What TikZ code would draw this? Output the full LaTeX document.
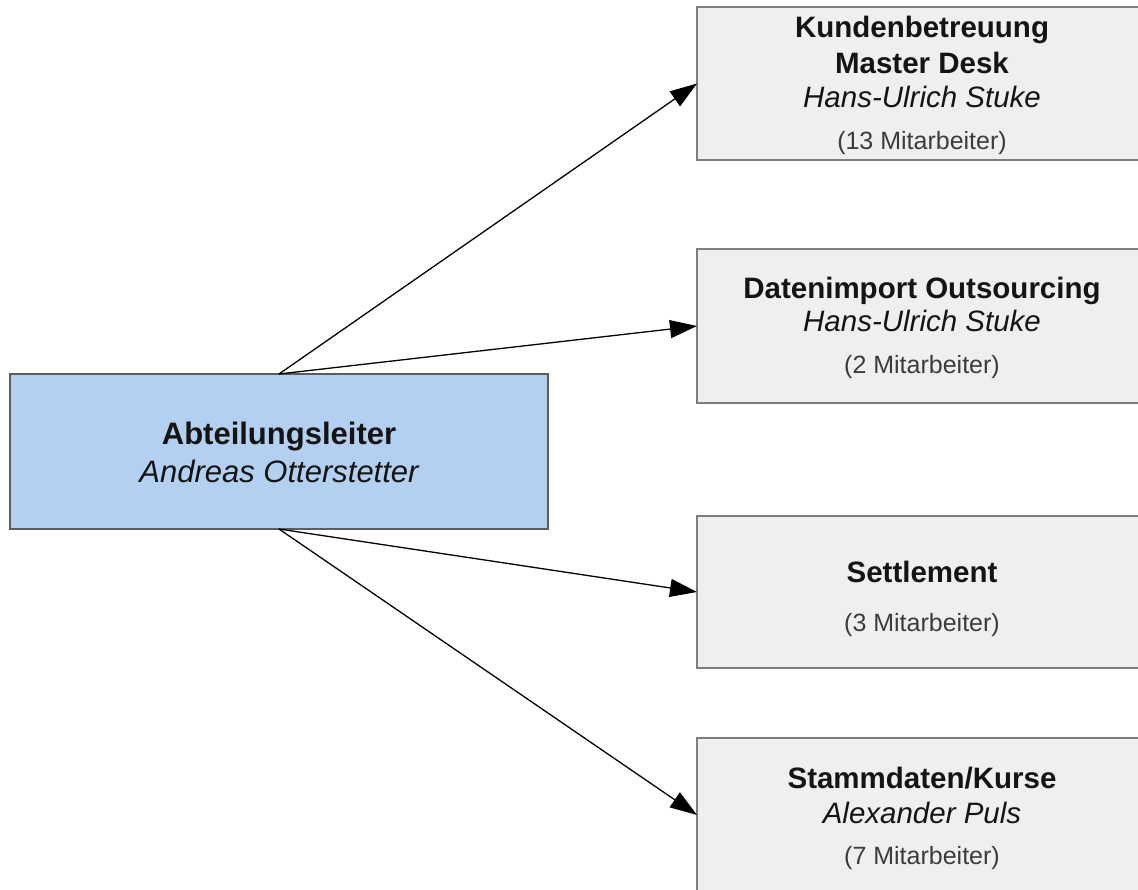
\documentclass[tikz,border=0pt]{standalone}
\usepackage{fontspec}
\setmainfont{Liberation Sans}
\usetikzlibrary{arrows.meta}

\definecolor{headfill}{HTML}{B4D0F0}
\definecolor{headline}{HTML}{5C5C5C}
\definecolor{unitfill}{HTML}{EFEFEF}
\definecolor{unitline}{HTML}{7E7E7E}
\definecolor{inktext}{HTML}{141414}
\definecolor{stafftext}{HTML}{3C3C3C}

\tikzset{
  box/.style={rectangle, inner sep=0pt, outer sep=0pt},
  headbox/.style={box, draw=headline, line width=2pt, fill=headfill,
    minimum width=538pt, minimum height=155pt},
  unitbox/.style={box, draw=unitline, line width=2.5pt, fill=unitfill,
    minimum width=450pt, minimum height=154pt},
  headtitle/.style={anchor=base, inner sep=0pt, text=inktext,
    font=\fontsize{31}{36}\selectfont\bfseries},
  headname/.style={anchor=base, inner sep=0pt, text=inktext,
    font=\fontsize{31}{36}\selectfont\itshape},
  unittitle/.style={anchor=base, inner sep=0pt, text=inktext,
    font=\fontsize{29.5}{34}\selectfont\bfseries},
  unitname/.style={anchor=base, inner sep=0pt, text=inktext,
    font=\fontsize{29.5}{34}\selectfont\itshape},
  staff/.style={anchor=base, inner sep=0pt, text=stafftext,
    font=\fontsize{25}{30}\selectfont},
  link/.style={line width=1.3pt, black, -{Triangle[length=27pt,width=18pt]}}
}

\begin{document}
\begin{tikzpicture}[x=1pt,y=-1pt]
  \clip (0,0) rectangle (1138,890);
  \fill[white] (0,0) rectangle (1138,890);

  % department head
  \node[headbox] (head) at (279,451.5) {};
  \node[headtitle] (headT) at (279,445) {Abteilungsleiter};
  \node[headname] (headN) at (279,482) {Andreas Otterstetter};

  % teams
  \node[unitbox, minimum height=153pt] (u1) at (922,83.5) {};
  \node[unittitle] (u1T) at (922,38) {Kundenbetreuung};
  \node[unittitle] (u1S) at (922,74) {Master Desk};
  \node[unitname] (u1N) at (922,108) {Hans-Ulrich Stuke};
  \node[staff] (u1C) at (922,150) {(13 Mitarbeiter)};

  \node[unitbox] (u2) at (922,326) {};
  \node[unittitle] (u2T) at (922,299) {Datenimport Outsourcing};
  \node[unitname] (u2N) at (922,332) {Hans-Ulrich Stuke};
  \node[staff] (u2C) at (922,374) {(2 Mitarbeiter)};

  \node[unitbox, minimum height=152pt] (u3) at (922,592) {};
  \node[unittitle] (u3T) at (922,582) {Settlement};
  \node[staff] (u3C) at (922,631) {(3 Mitarbeiter)};

  \node[unitbox] (u4) at (922,815) {};
  \node[unittitle] (u4T) at (922,788) {Stammdaten/Kurse};
  \node[unitname] (u4N) at (922,823) {Alexander Puls};
  \node[staff] (u4C) at (922,864) {(7 Mitarbeiter)};

  % reporting lines
  \draw[link] (head.north) -- (u1.west);
  \draw[link] (head.north) -- (u2.west);
  \draw[link] (head.south) -- (u3.west);
  \draw[link] (head.south) -- (u4.west);
\end{tikzpicture}
\end{document}
